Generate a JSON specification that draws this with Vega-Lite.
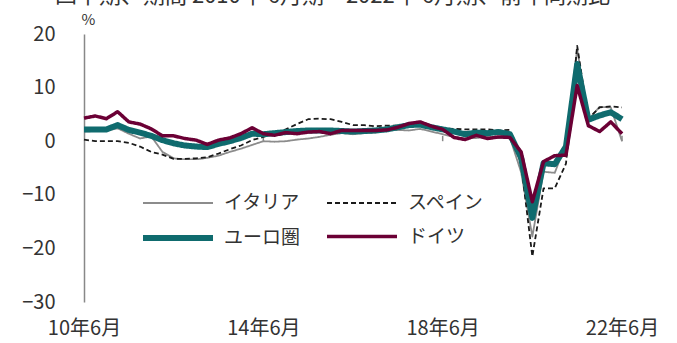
{
  "$schema": "https://vega.github.io/schema/vega-lite/v6.json",
  "autosize": "none",
  "width": 538,
  "height": 268,
  "padding": {"left": 84, "top": 34, "right": 55, "bottom": 41},
  "background": "white",
  "title": {
    "text": "四半期、期間 2010年 6月期～2022年 6月期、前年同期比",
    "anchor": "start",
    "frame": "group",
    "dx": -29,
    "offset": -13,
    "baseline": "alphabetic",
    "fontSize": 22,
    "fontWeight": "normal",
    "font": "Noto Sans CJK JP",
    "color": "#333333"
  },
  "config": {
    "view": {"stroke": null},
    "font": "Noto Sans CJK JP",
    "axis": {"labelFont": "Noto Sans CJK JP", "labelColor": "#333333", "labelFontSize": 20}
  },
  "datasets": {
    "gdp": [
      {"period": "10年6月", "イタリア": 1.8, "スペイン": 0.3, "ユーロ圏": 2.2, "ドイツ": 4.3},
      {"period": "10年9月", "イタリア": 1.9, "スペイン": 0.0, "ユーロ圏": 2.2, "ドイツ": 4.7},
      {"period": "10年12月", "イタリア": 2.0, "スペイン": 0.0, "ユーロ圏": 2.2, "ドイツ": 4.2},
      {"period": "11年3月", "イタリア": 2.4, "スペイン": 0.0, "ユーロ圏": 3.0, "ドイツ": 5.5},
      {"period": "11年6月", "イタリア": 1.4, "スペイン": -0.3, "ユーロ圏": 2.1, "ドイツ": 3.6},
      {"period": "11年9月", "イタリア": 0.5, "スペイン": -1.0, "ユーロ圏": 1.6, "ドイツ": 3.2},
      {"period": "11年12月", "イタリア": 0.9, "スペイン": -2.0, "ユーロ圏": 1.0, "ドイツ": 2.3},
      {"period": "12年3月", "イタリア": -2.0, "スペイン": -2.5, "ユーロ圏": 0.2, "ドイツ": 1.0},
      {"period": "12年6月", "イタリア": -3.2, "スペイン": -3.3, "ユーロ圏": -0.4, "ドイツ": 1.0},
      {"period": "12年9月", "イタリア": -3.4, "スペイン": -3.3, "ユーロ圏": -0.8, "ドイツ": 0.5},
      {"period": "12年12月", "イタリア": -3.4, "スペイン": -3.2, "ユーロ圏": -1.0, "ドイツ": 0.2},
      {"period": "13年3月", "イタリア": -3.1, "スペイン": -3.0, "ユーロ圏": -1.1, "ドイツ": -0.6},
      {"period": "13年6月", "イタリア": -2.7, "スペイン": -2.3, "ユーロ圏": -0.5, "ドイツ": 0.2},
      {"period": "13年9月", "イタリア": -2.0, "スペイン": -1.5, "ユーロ圏": 0.0, "ドイツ": 0.6},
      {"period": "13年12月", "イタリア": -1.4, "スペイン": -0.8, "ユーロ圏": 0.6, "ドイツ": 1.4},
      {"period": "14年3月", "イタリア": -0.7, "スペイン": 0.2, "ユーロ圏": 1.4, "ドイツ": 2.5},
      {"period": "14年6月", "イタリア": 0.0, "スペイン": 0.8, "ユーロ圏": 1.3, "ドイツ": 1.4},
      {"period": "14年9月", "イタリア": -0.1, "スペイン": 1.5, "ユーロ圏": 1.5, "ドイツ": 1.1},
      {"period": "14年12月", "イタリア": 0.0, "スペイン": 2.2, "ユーロ圏": 1.7, "ドイツ": 1.6},
      {"period": "15年3月", "イタリア": 0.3, "スペイン": 3.2, "ユーロ圏": 1.9, "ドイツ": 1.4},
      {"period": "15年6月", "イタリア": 0.5, "スペイン": 4.1, "ユーロ圏": 2.0, "ドイツ": 1.7},
      {"period": "15年9月", "イタリア": 0.8, "スペイン": 4.2, "ユーロ圏": 2.0, "ドイツ": 1.8},
      {"period": "15年12月", "イタリア": 1.2, "スペイン": 4.1, "ユーロ圏": 2.0, "ドイツ": 1.4},
      {"period": "16年3月", "イタリア": 1.5, "スペイン": 3.6, "ユーロ圏": 1.9, "ドイツ": 2.0},
      {"period": "16年6月", "イタリア": 1.3, "スペイン": 3.0, "ユーロ圏": 1.8, "ドイツ": 2.0},
      {"period": "16年9月", "イタリア": 1.5, "スペイン": 3.0, "ユーロ圏": 1.9, "ドイツ": 2.0},
      {"period": "16年12月", "イタリア": 1.6, "スペイン": 2.8, "ユーロ圏": 2.0, "ドイツ": 2.0},
      {"period": "17年3月", "イタリア": 2.0, "スペイン": 2.9, "ユーロ圏": 2.2, "ドイツ": 2.1},
      {"period": "17年6月", "イタリア": 2.1, "スペイン": 2.9, "ユーロ圏": 2.6, "ドイツ": 2.6},
      {"period": "17年9月", "イタリア": 2.0, "スペイン": 3.1, "ユーロ圏": 3.0, "ドイツ": 3.3},
      {"period": "17年12月", "イタリア": 2.3, "スペイン": 3.1, "ユーロ圏": 3.1, "ドイツ": 3.6},
      {"period": "18年3月", "イタリア": 1.8, "スペイン": 2.7, "ユーロ圏": 2.6, "ドイツ": 2.8},
      {"period": "18年6月", "イタリア": 1.3, "スペイン": 2.4, "ユーロ圏": 2.2, "ドイツ": 2.2},
      {"period": "18年9月", "イタリア": 0.8, "スペイン": 2.3, "ユーロ圏": 1.8, "ドイツ": 0.7},
      {"period": "18年12月", "イタリア": 0.5, "スペイン": 2.2, "ユーロ圏": 1.3, "ドイツ": 0.3},
      {"period": "19年3月", "イタリア": 0.6, "スペイン": 2.2, "ユーロ圏": 1.6, "ドイツ": 1.1},
      {"period": "19年6月", "イタリア": 0.8, "スペイン": 2.2, "ユーロ圏": 1.5, "ドイツ": 0.5},
      {"period": "19年9月", "イタリア": 0.6, "スペイン": 2.0, "ユーロ圏": 1.7, "ドイツ": 0.8},
      {"period": "19年12月", "イタリア": 0.7, "スペイン": 2.1, "ユーロ圏": 1.3, "ドイツ": 0.7},
      {"period": "20年3月", "イタリア": -5.8, "スペイン": -4.3, "ユーロ圏": -3.1, "ドイツ": -2.0},
      {"period": "20年6月", "イタリア": -17.8, "スペイン": -21.5, "ユーロ圏": -14.3, "ドイツ": -11.3},
      {"period": "20年9月", "イタリア": -5.7, "スペイン": -8.8, "ユーロ圏": -4.1, "ドイツ": -3.8},
      {"period": "20年12月", "イタリア": -5.9, "スペイン": -8.8, "ユーロ圏": -4.3, "ドイツ": -2.7},
      {"period": "21年3月", "イタリア": -0.5, "スペイン": -4.2, "ユーロ圏": -1.0, "ドイツ": -2.6},
      {"period": "21年6月", "イタリア": 17.2, "スペイン": 17.8, "ユーロ圏": 14.4, "ドイツ": 10.4},
      {"period": "21年9月", "イタリア": 4.0, "スペイン": 4.2, "ユーロ圏": 4.0, "ドイツ": 2.9},
      {"period": "21年12月", "イタリア": 6.4, "スペイン": 6.3, "ユーロ圏": 4.8, "ドイツ": 1.8},
      {"period": "22年3月", "イタリア": 6.3, "スペイン": 6.5, "ユーロ圏": 5.4, "ドイツ": 3.6},
      {"period": "22年6月", "イタリア": 0.0, "スペイン": 6.3, "ユーロ圏": 4.1, "ドイツ": 1.4}
    ],
    "ticks": [
      {"period": "14年6月", "low": 0, "high": 1},
      {"period": "18年6月", "low": 0, "high": 1},
      {"period": "22年6月", "low": 0, "high": 1}
    ]
  },
  "layer": [
    {
      "data": {"name": "gdp"},
      "mark": {"type": "rule", "color": "#888888", "strokeWidth": 2},
      "encoding": {"y": {"datum": 0, "type": "quantitative"}}
    },
    {
      "data": {"name": "ticks"},
      "mark": {"type": "rule", "color": "#888888", "strokeWidth": 1.5},
      "encoding": {
        "x": {"field": "period", "type": "ordinal"},
        "y": {"field": "low", "type": "quantitative"},
        "y2": {"field": "high"}
      }
    },
    {
      "data": {"name": "gdp"},
      "transform": [
        {"fold": ["イタリア", "スペイン", "ユーロ圏", "ドイツ"], "as": ["series", "value"]}
      ],
      "mark": {"type": "line", "strokeJoin": "round", "strokeCap": "butt"},
      "encoding": {
        "x": {"field": "period", "type": "ordinal"},
        "y": {"field": "value", "type": "quantitative"},
        "color": {
          "field": "series", "type": "nominal",
          "scale": {"domain": ["イタリア", "スペイン", "ユーロ圏", "ドイツ"], "range": ["#8c8c8c", "#1a1a1a", "#0f6b6e", "#6b0035"]},
          "legend": {
            "title": null,
            "orient": "none",
            "direction": "horizontal",
            "legendX": 49,
            "legendY": 126,
            "columns": 2,
            "symbolType": "M-3,0H3",
            "symbolSize": 544,
            "labelFontSize": 19,
            "labelFont": "Noto Sans CJK JP",
            "labelColor": "#333333",
            "labelOffset": 31,
            "labelLimit": 0,
            "fillColor": "white",
            "padding": 30,
            "columnPadding": 19,
            "rowPadding": 10
          }
        },
        "strokeWidth": {
          "field": "series", "type": "nominal",
          "scale": {"type": "ordinal", "domain": ["イタリア", "スペイン", "ユーロ圏", "ドイツ"], "range": [1.8, 1.8, 6, 3.5]},
          "legend": null
        },
        "strokeDash": {
          "field": "series", "type": "nominal",
          "scale": {"domain": ["イタリア", "スペイン", "ユーロ圏", "ドイツ"], "range": [[1, 0], [5, 3], [1, 0], [1, 0]]},
          "legend": null
        }
      }
    }
  ],
  "resolve": {"scale": {"x": "shared", "y": "shared"}},
  "encoding": {
    "x": {
      "field": "period", "type": "ordinal", "sort": null,
      "scale": {"type": "point", "padding": 0},
      "axis": {
        "title": null,
        "values": ["10年6月", "14年6月", "18年6月", "22年6月"],
        "labelAngle": 0,
        "ticks": false,
        "domain": false,
        "grid": false,
        "labelPadding": 16
      }
    },
    "y": {
      "type": "quantitative",
      "scale": {"domain": [-30, 20], "nice": false, "zero": false},
      "axis": {
        "values": [-30, -20, -10, 0, 10, 20],
        "title": "%",
        "titleAngle": 0,
        "titleX": 4,
        "titleY": -7,
        "titleAlign": "center",
        "titleBaseline": "bottom",
        "titleFontSize": 15,
        "titleFontWeight": "normal",
        "titleColor": "#333333",
        "titleFont": "Noto Sans CJK JP",
        "ticks": false,
        "labelPadding": 29,
        "domainColor": "#888888",
        "domainWidth": 1.5,
        "gridColor": "#d9d9d9",
        "gridWidth": 1.5
      }
    }
  }
}
